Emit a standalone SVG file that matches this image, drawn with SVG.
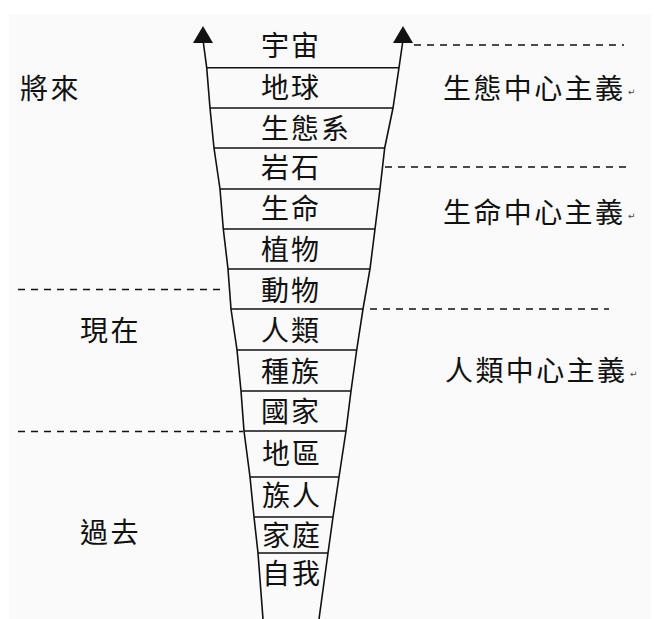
<svg xmlns="http://www.w3.org/2000/svg" width="661" height="619" viewBox="0 0 661 619">
<defs>
<style>
.t{font-family:"Noto Sans CJK TC","Noto Sans CJK SC",sans-serif;font-size:28px;fill:#111;letter-spacing:2px}
.s{font-family:"Noto Sans CJK TC","Noto Sans CJK SC",sans-serif;font-size:28px;fill:#111;letter-spacing:2.4px}
.m{font-family:"DejaVu Sans",sans-serif;font-size:9px;fill:#444}
.e{fill:none;stroke:#111;stroke-width:1.6}
.r{stroke:#111;stroke-width:1.5}
.d{stroke:#111;stroke-width:1.4;stroke-dasharray:7 6}
</style>
</defs>
<rect width="661" height="619" fill="#ffffff"/>
<rect x="9" y="14" width="642" height="605" fill="#fafafa"/>
<g id="connectors">
<polyline class="e" points="203,40 206.7,67.7 210,108 214,148 220,189 223.3,229 228,269 231,309 237,350 241,391 244,431 250,477 254,517 258,553 263,619"/>
<polyline class="e" points="403,40 399,67.7 393,108 384.7,148 380,189 375,229 370,269 363,309 356.7,350 351,391 346,431 339,477 333,517 328,553 319,619"/>
<polygon points="203,26 193,43 213,43" fill="#111"/>
<polygon points="403,26 393,43 413,43" fill="#111"/>
<line class="r" x1="206.7" y1="67.7" x2="399" y2="67.7"/>
<line class="r" x1="210" y1="108" x2="393" y2="108"/>
<line class="r" x1="214" y1="148" x2="384.7" y2="148"/>
<line class="r" x1="220" y1="189" x2="380" y2="189"/>
<line class="r" x1="223.3" y1="229" x2="375" y2="229"/>
<line class="r" x1="228" y1="269" x2="370" y2="269"/>
<line class="r" x1="231" y1="309" x2="363" y2="309"/>
<line class="r" x1="237" y1="350" x2="356.7" y2="350"/>
<line class="r" x1="241" y1="391" x2="351" y2="391"/>
<line class="r" x1="244" y1="431" x2="346" y2="431"/>
<line class="r" x1="250" y1="477" x2="339" y2="477"/>
<line class="r" x1="254" y1="517" x2="333" y2="517"/>
<line class="r" x1="258" y1="553" x2="328" y2="553"/>
</g>
<g id="dividers">
<line class="d" x1="414" y1="45" x2="624" y2="45"/>
<line class="d" x1="385" y1="167" x2="631" y2="167"/>
<line class="d" x1="370" y1="309" x2="609" y2="309"/>
<line class="d" x1="18" y1="289.5" x2="224" y2="289.5"/>
<line class="d" x1="18" y1="431.5" x2="243" y2="431.5"/>
</g>
<g id="level-universe"><text class="t" x="261" y="56">宇宙</text></g>
<g id="level-earth"><text class="t" x="261" y="98">地球</text></g>
<g id="level-ecosystem"><text class="t" x="261" y="139">生態系</text></g>
<g id="level-rock"><text class="t" x="261" y="178">岩石</text></g>
<g id="level-life"><text class="t" x="261" y="219">生命</text></g>
<g id="level-plant"><text class="t" x="261" y="260">植物</text></g>
<g id="level-animal"><text class="t" x="261" y="301">動物</text></g>
<g id="level-human"><text class="t" x="261" y="341">人類</text></g>
<g id="level-race"><text class="t" x="261" y="382">種族</text></g>
<g id="level-nation"><text class="t" x="261" y="422">國家</text></g>
<g id="level-region"><text class="t" x="262" y="464">地區</text></g>
<g id="level-clan"><text class="t" x="262" y="506">族人</text></g>
<g id="level-family"><text class="t" x="262" y="546">家庭</text></g>
<g id="level-self"><text class="t" x="262" y="584">自我</text></g>
<g id="label-future"><text class="s" x="20" y="99">將來</text></g>
<g id="label-present"><text class="s" x="80" y="341">現在</text></g>
<g id="label-past"><text class="s" x="80" y="543">過去</text></g>
<g id="label-eco"><text class="s" x="443" y="99">生態中心主義</text><text class="m" x="628" y="95">↵</text></g>
<g id="label-bio"><text class="s" x="443" y="223">生命中心主義</text><text class="m" x="628" y="219">↵</text></g>
<g id="label-anthro"><text class="s" x="445" y="381">人類中心主義</text><text class="m" x="630" y="377">↵</text></g>
</svg>
